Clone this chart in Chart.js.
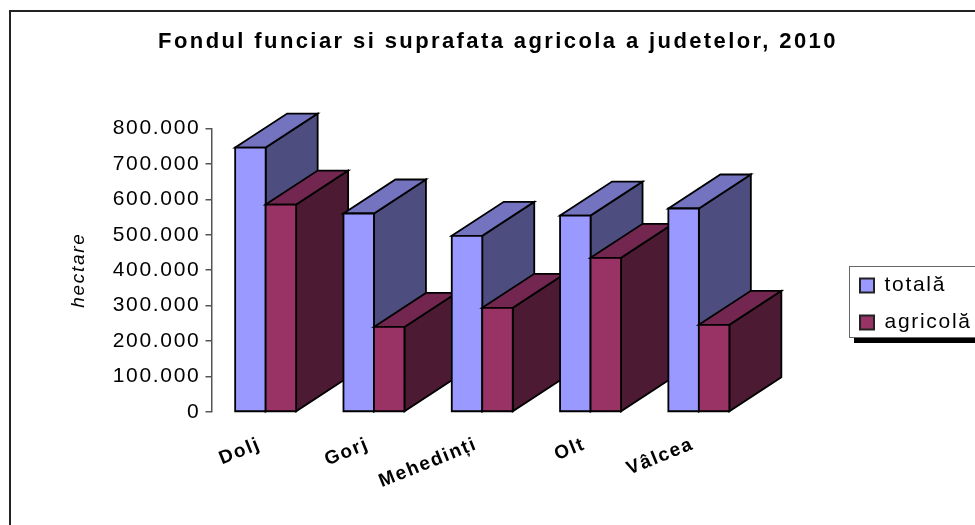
<!DOCTYPE html>
<html>
<head>
<meta charset="utf-8">
<title>Fondul funciar</title>
<script src="https://cdn.jsdelivr.net/npm/chart.js@4/dist/chart.umd.min.js"></script>
<style>
  html, body { margin: 0; padding: 0; background: #fff; overflow: hidden; }
  canvas { display: block; }
</style>
</head>
<body>
<canvas id="chartCanvas" width="975" height="525"></canvas>
<script>
// valorile
const categories = ["Dolj", "Gorj", "Mehedinți", "Olt", "Vâlcea"];
const totala = [746000, 560000, 497000, 554000, 574000];
const agricola = [585000, 240000, 294000, 435000, 246000];
const yTickLabels = ["0", "100.000", "200.000", "300.000", "400.000", "500.000", "600.000", "700.000", "800.000"];

const FONT = "'Liberation Sans', Arial, sans-serif";
const TEXT_SPACING = "1.7px";
const TITLE_SPACING = "2.4px";

// adancimea barelor 3D
const depthX = 52;
const depthY = -34;

function face(ctx, points, color) {
    ctx.beginPath();
    ctx.moveTo(points[0][0], points[0][1]);
    for (let i = 1; i < points.length; i++) ctx.lineTo(points[i][0], points[i][1]);
    ctx.closePath();
    ctx.fillStyle = color;
    ctx.fill();
    ctx.stroke();
}

const bars3d = {
    id: "bars3d",
    beforeLayout(chart) {
        chart.ctx.letterSpacing = TEXT_SPACING;
    },
    afterLayout(chart) {
        // titlul si legenda au locul lor fix
        chart.titleBlock.left = 21;
        chart.titleBlock.right = 975;
        const legend = chart.legend;
        legend.left = 844;
        legend.right = 975;
        legend.top = 259;
        legend.bottom = 420;

        if (!chart.titleBlock.wrapped) {
            const drawTitle = chart.titleBlock.draw;
            chart.titleBlock.draw = function (area) {
                this.ctx.letterSpacing = TITLE_SPACING;
                drawTitle.call(this, area);
                this.ctx.letterSpacing = TEXT_SPACING;
            };
            chart.titleBlock.wrapped = true;
        }
    },
    beforeDraw(chart) {
        const ctx = chart.ctx;
        ctx.letterSpacing = TEXT_SPACING;
        ctx.save();
        ctx.fillStyle = "#fff";
        ctx.fillRect(0, 0, chart.width, chart.height);
        // chenarul graficului
        ctx.strokeStyle = "#222";
        ctx.lineWidth = 2;
        ctx.beginPath();
        ctx.moveTo(10, 525);
        ctx.lineTo(10, 11);
        ctx.lineTo(975, 11);
        ctx.stroke();
        // chenarul legendei cu umbra
        ctx.fillStyle = "#000";
        ctx.fillRect(854, 338, 121, 5);
        ctx.fillStyle = "#fff";
        ctx.fillRect(849.5, 267, 126, 71);
        ctx.strokeStyle = "#666";
        ctx.lineWidth = 1;
        ctx.strokeRect(849.5, 266.5, 130, 71);
        ctx.restore();
    },
    beforeDatasetsDraw(chart) {
        const ctx = chart.ctx;
        ctx.save();
        ctx.strokeStyle = "#000";
        ctx.lineWidth = 1.8;
        ctx.lineJoin = "miter";
        // pe categorii, de la stanga la dreapta, ca barele sa se acopere corect
        categories.forEach((name, index) => {
            chart.data.datasets.forEach((dataset, dsIndex) => {
                const bar = chart.getDatasetMeta(dsIndex).data[index];
                const left = bar.x - bar.width / 2;
                const right = bar.x + bar.width / 2;
                const top = bar.y;
                const base = bar.base;
                face(ctx, [[right, top], [right + depthX, top + depthY], [right + depthX, base + depthY], [right, base]], dataset.sideColor);
                face(ctx, [[left, top], [left + depthX, top + depthY], [right + depthX, top + depthY], [right, top]], dataset.topColor);
                face(ctx, [[left, top], [right, top], [right, base], [left, base]], dataset.backgroundColor);
            });
        });
        ctx.restore();
        return false;
    }
};

new Chart(document.getElementById("chartCanvas").getContext("2d"), {
    type: "bar",
    data: {
        labels: categories,
        datasets: [
            {
                label: "totală",
                data: totala,
                backgroundColor: "#9999ff",
                topColor: "#7373bf",
                sideColor: "#4d4d80",
                borderColor: "#222",
                borderWidth: 2
            },
            {
                label: "agricolă",
                data: agricola,
                backgroundColor: "#993366",
                topColor: "#732650",
                sideColor: "#4d1a33",
                borderColor: "#222",
                borderWidth: 2
            }
        ]
    },
    options: {
        responsive: false,
        animation: false,
        devicePixelRatio: 1,
        categoryPercentage: 0.563,
        barPercentage: 1,
        layout: { padding: { left: 66, right: 222, top: 0, bottom: 0 } },
        plugins: {
            tooltip: { enabled: false },
            title: {
                display: true,
                text: "Fondul funciar si suprafata agricola a judetelor, 2010",
                color: "#000",
                font: { family: FONT, size: 22, weight: "bold", lineHeight: 1.2 },
                padding: { top: 29, bottom: 73 }
            },
            legend: {
                position: "chartArea",
                align: "start",
                labels: {
                    color: "#000",
                    font: { family: FONT, size: 21, lineHeight: 1 },
                    boxWidth: 14,
                    boxHeight: 14,
                    padding: 16
                }
            }
        },
        scales: {
            x: {
                afterFit(scale) { scale.height = 113; },
                grid: { display: false },
                border: { display: false },
                ticks: {
                    color: "#000",
                    autoSkip: false,
                    minRotation: 22,
                    maxRotation: 22,
                    padding: 13,
                    labelOffset: -6,
                    font: { family: FONT, size: 19, weight: "bold" }
                }
            },
            y: {
                min: 0,
                max: 800000,
                afterFit(scale) { scale.width = 145.5; },
                grid: { drawOnChartArea: false, tickLength: 6, tickColor: "#555", lineWidth: 1.5 },
                border: { color: "#555", width: 1.5 },
                ticks: {
                    color: "#000",
                    stepSize: 100000,
                    padding: 5,
                    font: { family: FONT, size: 21 },
                    callback: (value, i) => yTickLabels[i]
                },
                title: {
                    display: true,
                    text: "hectare",
                    color: "#000",
                    font: { family: FONT, size: 19, style: "italic", lineHeight: 1.3 },
                    padding: 0
                }
            }
        }
    },
    plugins: [bars3d]
});
</script>
</body>
</html>
